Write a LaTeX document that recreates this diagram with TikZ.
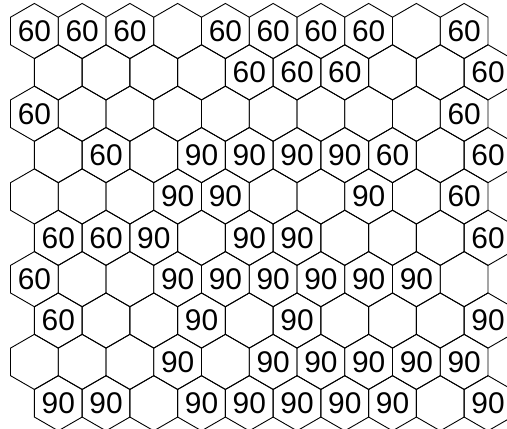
\documentclass[tikz,border=0pt]{standalone}
\usepackage{fontspec}
\setmainfont{Liberation Sans}
\usetikzlibrary{shapes.geometric}

\tikzset{
  hexcell/.style={regular polygon,regular polygon sides=6,shape border rotate=30,
    draw,line width=0.9bp,minimum size=55.14bp,inner sep=0pt,
    font=\fontsize{30}{30}\selectfont}
}

\begin{document}
\begin{tikzpicture}[x=1bp,y=-1bp]

	\clip (0,0) rectangle (507,428);
	
	% one list per row, blank = empty cell
	\foreach \rowlabels [count=\r] in {
		{60,60,60,,60,60,60,60,,60},
		{,,,,60,60,60,,,60},
		{60,,,,,,,,,60},
		{,60,,90,90,90,90,60,,60},
		{,,,90,90,,,90,,60},
		{60,60,90,,90,90,,,,60},
		{60,,,90,90,90,90,90,90,},
		{60,,,90,,90,,,,90},
		{,,,90,,90,90,90,90,90},
		{90,90,,90,90,90,90,90,,90}}
	{
		\foreach \t [count=\c] in \rowlabels {
			\pgfmathsetmacro\hx{34.4+47.75*(\c-1)+23.875*(1-mod(\r,2))}
			\pgfmathsetmacro\hy{31+41.36*(\r-1)}
			\node[hexcell] (h-\r-\c) at (\hx,\hy) {\t};
		}
	}
	
\end{tikzpicture}
\end{document}
